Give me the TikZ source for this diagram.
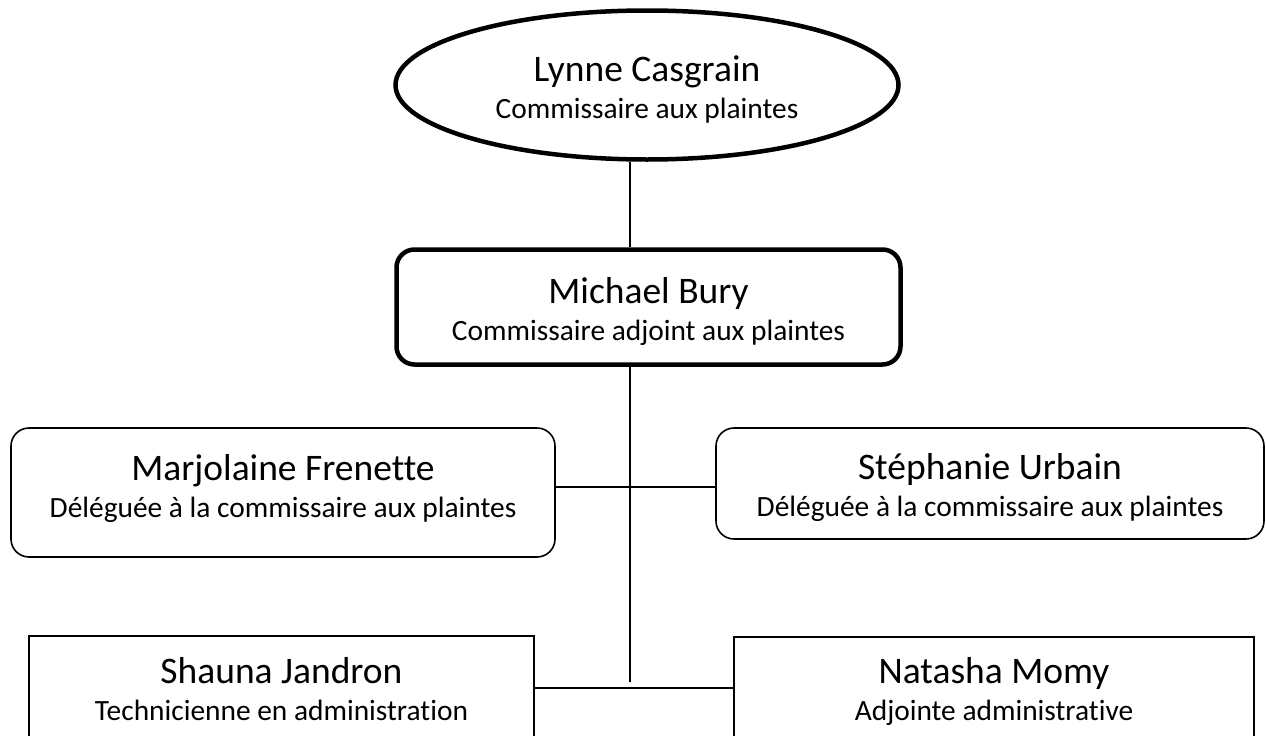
\documentclass[tikz,border=0pt]{standalone}
\usepackage{fontspec}
\setmainfont{Carlito}[Ligatures=NoCommon]
\usetikzlibrary{shapes.geometric}

% name on top, job below; optional arg drops the text inside its box
\newcommand{\who}[3][0pt]{\raisebox{-#1}[\height][\depth]{%
    \begin{tabular}{@{}c@{}}{\fontsize{37.5}{40}\selectfont #2}\\#3\end{tabular}}}

\begin{document}
\begin{tikzpicture}[x=1pt,y=-1pt,
    boss/.style={draw, line width=4.5pt, inner sep=0pt, font=\fontsize{29.4}{37}\selectfont},
    deleg/.style={draw, line width=1.6pt, rounded corners=18pt, inner sep=0pt, font=\fontsize{29.4}{37}\selectfont},
    staff/.style={draw, line width=1.4pt, inner sep=0pt, font=\fontsize{29.4}{37}\selectfont},
    wire/.style={line width=1.5pt},
]
    \clip (0,0) rectangle (1266,736); %page size, boxes at the bottom get cut
    \node[boss, ellipse, minimum width=503pt, minimum height=149pt] (lynne) at (647,85)
        {\who[8pt]{Lynne Casgrain}{Commissaire aux plaintes}};
    \node[boss, rounded corners=18pt, minimum width=504pt, minimum height=115pt] (bury) at (648.5,307)
        {\who[8pt]{Michael Bury}{Commissaire adjoint aux plaintes}};
    \node[deleg, minimum width=544pt, minimum height=129pt] (marj) at (283,492.5)
        {\who[-1pt]{Marjolaine Frenette}{Déléguée à la commissaire aux plaintes}};
    \node[deleg, minimum width=548pt, minimum height=111pt] (steph) at (990,483.5)
        {\who[7.5pt]{Stéphanie Urbain}{Déléguée à la commissaire aux plaintes}};
    \node[staff, minimum width=505pt, minimum height=110pt] (shauna) at (281.5,691)
        {\who[4pt]{Shauna Jandron}{Technicienne en administration}};
    \node[staff, minimum width=520pt, minimum height=108pt] (natasha) at (994,691)
        {\who[4pt]{Natasha Momy}{Adjointe administrative}};

    \coordinate (j1) at (630,487);
    \coordinate (j2) at (630,688);
    \coordinate (jend) at (630,682);
    \draw[wire] (lynne.south -| j1) -- (bury.north -| j1);
    \draw[wire] (bury.south -| j1) -- (jend); %stops short of the bottom line
    \draw[wire] (marj.east |- j1) -- (steph.west |- j1);
    \draw[wire] (shauna.east |- j2) -- (natasha.west |- j2);
\end{tikzpicture}
\end{document}
